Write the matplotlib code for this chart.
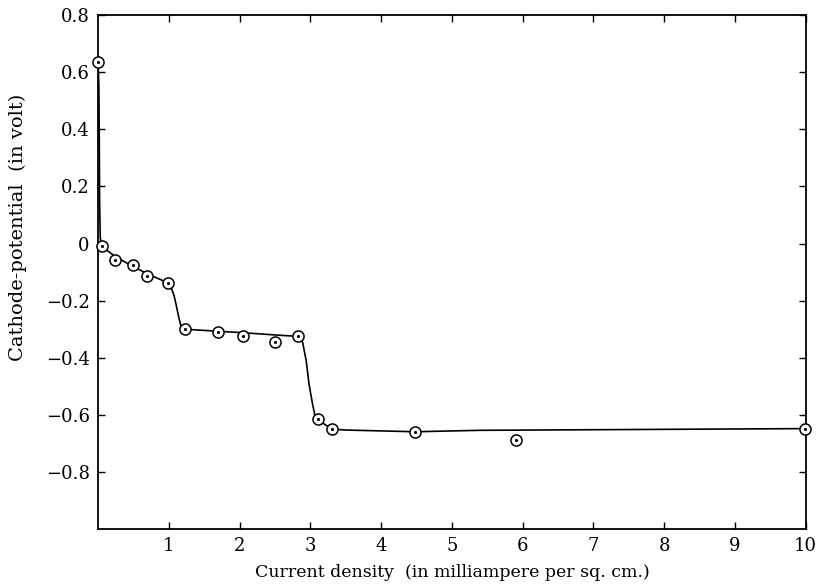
import matplotlib
matplotlib.use('Agg')
import matplotlib.pyplot as plt

# measured points (current density, cathode potential)
pts_x = [0.0, 0.05, 0.24, 0.49, 0.69, 0.99, 1.23, 1.69, 2.04, 2.50, 2.83,
         3.10, 3.31, 4.48, 5.91, 9.99]
pts_y = [0.635, -0.01, -0.057, -0.075, -0.112, -0.138, -0.300, -0.308, -0.323,
         -0.343, -0.325, -0.615, -0.650, -0.659, -0.689, -0.648]

# hand-drawn curve
curve_x = [0.0, 0.01, 0.015, 0.02, 0.03, 0.05, 0.24, 0.49, 0.69, 0.99, 1.03,
           1.07, 1.10, 1.14, 1.17, 1.20, 1.23, 1.69, 2.04, 2.50, 2.83, 2.86,
           2.89, 2.94, 2.98, 3.03, 3.06, 3.10, 3.20, 3.31, 3.50, 4.48, 5.39, 10.0]
curve_y = [0.635, 0.55, 0.40, 0.15, 0.02, -0.01, -0.045, -0.08, -0.105, -0.138, -0.153,
           -0.180, -0.212, -0.259, -0.288, -0.298, -0.300, -0.307, -0.312, -0.320, -0.325,
           -0.332, -0.346, -0.410, -0.492, -0.562, -0.598, -0.615, -0.633, -0.650, -0.653,
           -0.659, -0.654, -0.648]

xticks = [1, 2, 3, 4, 5, 6, 7, 8, 9, 10]
yticks = [-0.8, -0.6, -0.4, -0.2, 0, 0.2, 0.4, 0.6, 0.8]
ytick_labels = ['\u22120.8', '\u22120.6', '\u22120.4', '\u22120.2', '0', '0.2', '0.4', '0.6', '0.8']

plt.rcParams['font.family'] = ['DejaVu Serif']

fig = plt.figure(figsize=(8.18, 5.84), dpi=100)
ax = fig.add_axes([0.12, 0.094, 0.865, 0.88])

ax.plot(curve_x, curve_y, color='black', lw=1.2, zorder=2)
ax.plot(pts_x, pts_y, 'o', ms=8, mfc='white', mec='black', mew=1.1, zorder=3,
        clip_on=False)
ax.plot(pts_x, pts_y, '.', ms=2.5, color='black', zorder=4, clip_on=False)

ax.set_xlim(0, 10)
ax.set_ylim(-1.0, 0.8)
ax.set_xticks(xticks)
ax.set_xticklabels([str(t) for t in xticks])
ax.set_yticks(yticks)
ax.set_yticklabels(ytick_labels)
ax.tick_params(direction='in', length=5, width=1, labelsize=13, top=True,
               right=True, pad=6)
for s in ax.spines.values():
    s.set_linewidth(1.3)

ax.set_xlabel('Current density  (in milliampere per sq. cm.)', fontsize=12.5,
              labelpad=6)
ax.set_ylabel('Cathode-potential  (in volt)', fontsize=14)
ax.yaxis.set_label_coords(-0.1, 0.588)

fig.savefig('out.png', dpi=100)
